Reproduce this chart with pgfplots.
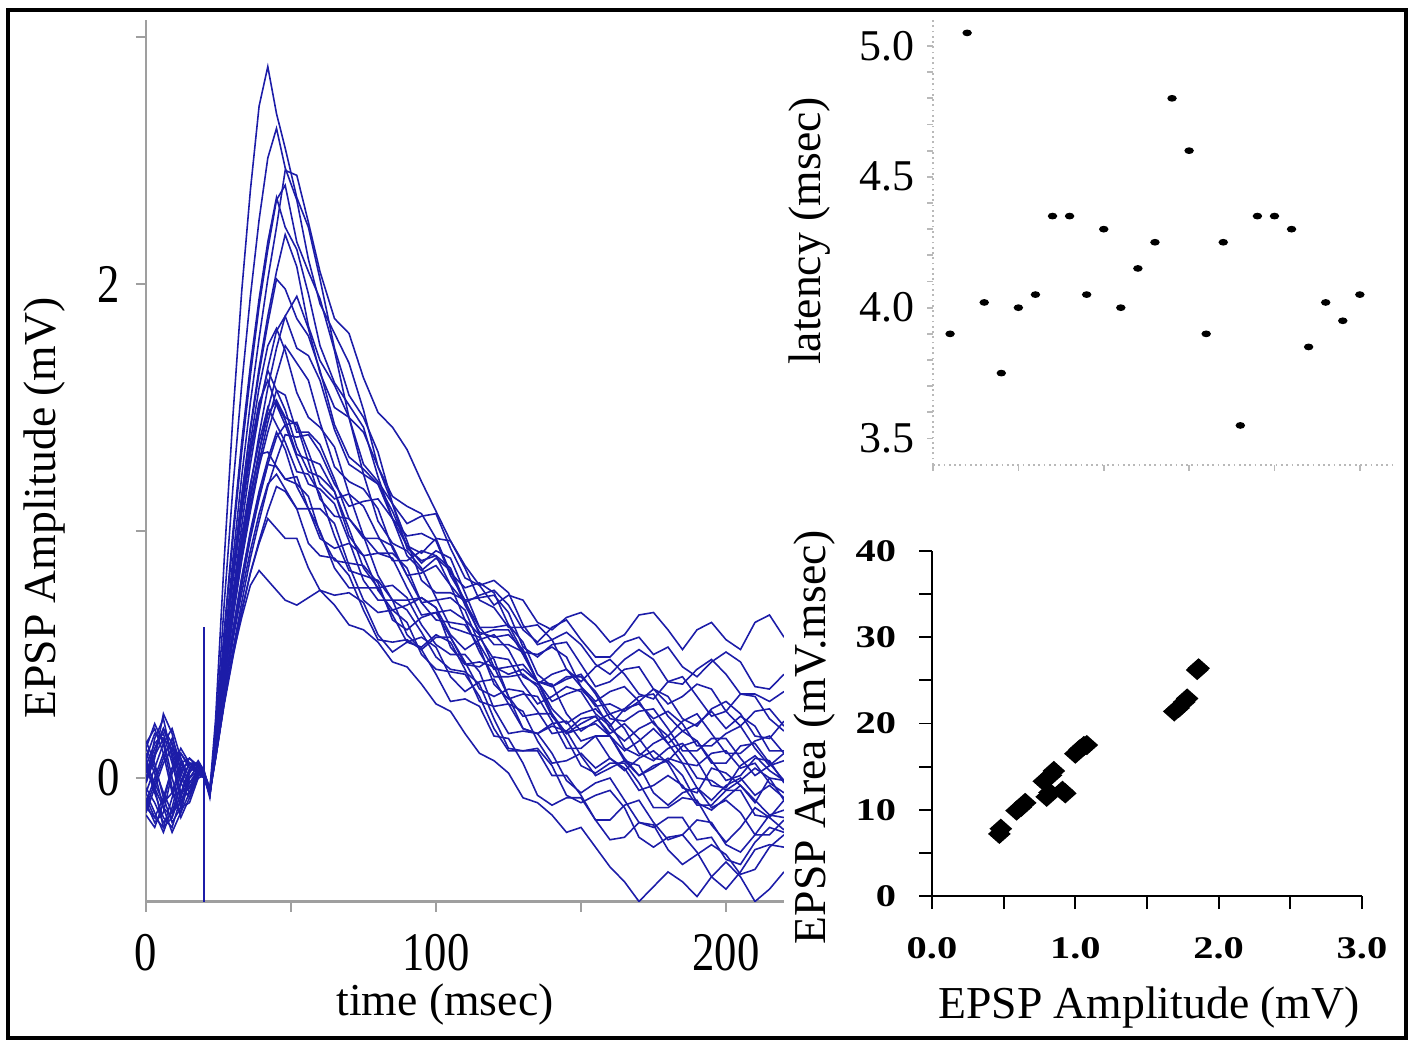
\documentclass[border=0pt]{standalone}
\usepackage{pgfplots}
\usepackage{pgfplotstable}
\pgfplotsset{compat=1.18}
\usepackage{fontspec}
\setmainfont{Liberation Serif}
\definecolor{trace}{RGB}{28,28,168}

% one row per sweep, one column per time (msec); transposed below
\pgfplotstableread{
t 0 3 6 9 12 15 18 20 22 24 27 30 33 36 39 42 45 48 52 56 60 65 70 75 80 85 90 95 100 105 110 115 120 125 130 135 140 145 150 155 160 165 170 175 180 185 190 195 200 205 210 215 220
r1 0.02 0.12 0.20 0.10 -0.06 -0.04 0.04 0.02 -0.05 0.24 0.89 1.47 1.97 2.38 2.72 2.88 2.69 2.55 2.35 2.23 2.02 1.74 1.55 1.46 1.32 1.11 0.93 0.88 0.90 0.85 0.71 0.61 0.61 0.62 0.55 0.42 0.37 0.40 0.42 0.34 0.24 0.23 0.27 0.28 0.20 0.11 0.11 0.16 0.16 0.08 0.01 0.05 0.10
r2 -0.06 -0.14 -0.22 -0.12 0.02 0.08 0.05 0.01 -0.07 0.19 0.71 1.18 1.59 1.95 2.26 2.51 2.63 2.47 2.34 2.10 1.92 1.80 1.68 1.49 1.26 1.14 1.10 1.07 0.97 0.83 0.77 0.79 0.75 0.62 0.51 0.50 0.53 0.49 0.37 0.31 0.35 0.37 0.31 0.22 0.17 0.23 0.26 0.18 0.10 0.10 0.15 0.17 0.10
r3 0.12 0.22 0.14 -0.04 -0.16 -0.08 0.02 0.00 -0.06 0.14 0.53 0.89 1.22 1.52 1.78 2.02 2.23 2.46 2.44 2.25 2.05 1.86 1.80 1.62 1.48 1.42 1.33 1.20 1.08 0.96 0.86 0.78 0.70 0.74 0.72 0.63 0.60 0.65 0.67 0.62 0.55 0.58 0.66 0.67 0.60 0.52 0.60 0.63 0.56 0.52 0.63 0.66 0.57
r4 -0.12 -0.02 0.08 0.16 0.06 -0.02 0.03 0.02 -0.04 0.15 0.58 0.97 1.32 1.63 1.91 2.14 2.34 2.40 2.17 2.05 1.94 1.73 1.46 1.27 1.20 1.11 0.96 0.80 0.75 0.75 0.72 0.58 0.45 0.42 0.44 0.39 0.26 0.18 0.20 0.22 0.17 0.07 0.01 0.05 0.07 0.01 -0.10 -0.13 -0.08 -0.03 -0.09 -0.15 -0.13
r5 0.05 -0.06 -0.16 -0.20 -0.08 0.04 0.06 0.03 -0.06 0.16 0.60 1.00 1.36 1.67 1.94 2.17 2.35 2.23 2.14 1.96 1.75 1.60 1.51 1.42 1.22 1.05 0.98 0.99 0.96 0.82 0.72 0.73 0.74 0.67 0.53 0.49 0.54 0.55 0.46 0.37 0.39 0.44 0.45 0.36 0.30 0.33 0.38 0.36 0.27 0.21 0.27 0.28 0.21
r6 -0.02 0.08 0.26 0.18 0.02 -0.06 0.00 0.01 -0.08 0.13 0.50 0.84 1.14 1.42 1.66 1.87 2.05 2.20 2.07 1.83 1.69 1.59 1.46 1.23 1.04 0.95 0.92 0.85 0.73 0.61 0.59 0.57 0.48 0.33 0.25 0.26 0.26 0.16 0.05 0.02 0.06 0.06 -0.02 -0.12 -0.12 -0.08 -0.09 -0.19 -0.26 -0.20 -0.12 -0.16 -0.09
r7 0.15 0.06 -0.08 -0.18 -0.12 0.02 0.07 0.03 -0.05 0.13 0.50 0.84 1.14 1.41 1.64 1.84 2.02 1.98 1.86 1.79 1.65 1.43 1.30 1.25 1.19 1.05 0.90 0.84 0.89 0.84 0.70 0.59 0.57 0.58 0.52 0.39 0.31 0.34 0.36 0.30 0.20 0.15 0.20 0.23 0.14 0.06 0.05 0.10 0.11 0.04 0.06 -0.02 -0.06
r8 -0.15 -0.20 -0.10 0.04 0.12 0.06 0.02 0.00 -0.06 0.11 0.41 0.69 0.95 1.18 1.39 1.58 1.74 1.87 1.95 1.82 1.64 1.50 1.46 1.40 1.26 1.11 1.03 1.06 1.07 0.93 0.81 0.78 0.80 0.75 0.62 0.54 0.56 0.59 0.54 0.46 0.42 0.48 0.52 0.48 0.39 0.38 0.44 0.48 0.42 0.34 0.34 0.31 0.35
r9 0.00 0.09 0.16 0.12 -0.02 -0.08 0.01 0.02 -0.06 0.13 0.49 0.82 1.11 1.36 1.58 1.75 1.82 1.73 1.56 1.46 1.42 1.34 1.15 0.98 0.91 0.91 0.85 0.71 0.64 0.63 0.62 0.53 0.38 0.32 0.34 0.33 0.23 0.12 0.12 0.17 0.17 0.08 0.01 0.04 0.08 0.06 -0.04 -0.09 -0.03 0.00 -0.07 -0.03 -0.08
r10 -0.04 -0.10 -0.18 -0.14 -0.02 0.06 0.06 0.02 -0.05 0.10 0.40 0.67 0.91 1.13 1.32 1.49 1.63 1.75 1.68 1.61 1.44 1.26 1.20 1.17 1.09 0.93 0.82 0.83 0.86 0.78 0.64 0.58 0.60 0.60 0.50 0.39 0.37 0.41 0.41 0.35 0.26 0.28 0.33 0.34 0.25 0.19 0.22 0.27 0.20 0.25 0.21 0.11 0.11
r11 0.08 0.18 0.16 0.00 -0.12 -0.10 0.00 0.01 -0.07 0.13 0.49 0.80 1.07 1.31 1.50 1.65 1.57 1.49 1.34 1.24 1.22 1.16 1.01 0.85 0.77 0.78 0.73 0.62 0.54 0.50 0.50 0.43 0.28 0.18 0.19 0.18 0.10 -0.01 -0.06 -0.02 0.00 -0.09 -0.18 -0.20 -0.16 -0.16 -0.25 -0.24 -0.33 -0.35 -0.26 -0.20 -0.22
r12 -0.10 0.00 0.10 0.14 0.04 -0.04 0.02 0.02 -0.05 0.10 0.39 0.66 0.89 1.10 1.28 1.44 1.57 1.55 1.40 1.40 1.35 1.21 1.05 0.97 0.97 0.94 0.82 0.71 0.72 0.73 0.68 0.54 0.44 0.45 0.46 0.39 0.28 0.22 0.26 0.28 0.22 0.12 0.09 0.14 0.17 0.09 0.00 -0.01 -0.05 -0.01 0.04 0.00 -0.09
r13 0.04 -0.04 -0.12 -0.16 -0.06 0.03 0.05 0.02 -0.06 0.11 0.41 0.69 0.93 1.14 1.32 1.47 1.53 1.46 1.43 1.28 1.13 1.06 1.05 0.98 0.82 0.72 0.72 0.73 0.69 0.53 0.46 0.47 0.45 0.33 0.20 0.18 0.21 0.19 0.09 0.01 0.04 0.07 0.05 -0.06 -0.11 -0.06 -0.04 -0.12 -0.09 -0.14 -0.23 -0.23 -0.17
r14 0.00 0.10 0.20 0.14 0.00 -0.06 0.01 0.02 -0.06 0.12 0.44 0.73 0.98 1.19 1.36 1.50 1.43 1.36 1.24 1.23 1.15 0.98 0.84 0.82 0.80 0.72 0.58 0.52 0.57 0.57 0.47 0.36 0.33 0.36 0.35 0.27 0.18 0.19 0.24 0.25 0.17 0.11 0.15 0.20 0.14 0.19 0.15 0.06 0.06 0.13 0.14 0.06 -0.01
r15 0.12 0.04 -0.06 -0.14 -0.10 0.00 0.05 0.02 -0.05 0.09 0.34 0.57 0.78 0.97 1.13 1.27 1.38 1.43 1.44 1.32 1.19 1.13 1.15 1.10 0.98 0.88 0.88 0.92 0.90 0.78 0.71 0.74 0.76 0.70 0.60 0.55 0.61 0.64 0.56 0.49 0.49 0.55 0.57 0.50 0.53 0.45 0.41 0.47 0.51 0.47 0.37 0.36 0.42
r16 -0.12 -0.16 -0.08 0.04 0.10 0.05 0.02 0.00 -0.07 0.09 0.36 0.60 0.81 1.00 1.16 1.29 1.40 1.33 1.18 1.09 1.09 1.03 0.86 0.72 0.67 0.68 0.63 0.50 0.44 0.43 0.42 0.33 0.20 0.11 0.11 0.12 0.05 -0.07 -0.10 -0.07 -0.05 -0.12 -0.24 -0.28 -0.24 -0.23 -0.30 -0.40 -0.45 -0.38 -0.29 -0.27 -0.28
r17 0.05 0.14 0.18 0.06 -0.08 -0.06 0.03 0.01 -0.05 0.10 0.36 0.60 0.81 0.99 1.14 1.27 1.26 1.21 1.19 1.14 0.99 0.88 0.87 0.86 0.79 0.64 0.60 0.65 0.67 0.57 0.46 0.45 0.49 0.48 0.38 0.30 0.33 0.37 0.35 0.26 0.21 0.28 0.30 0.24 0.27 0.22 0.13 0.13 0.18 0.21 0.12 0.05 0.07
r18 -0.08 -0.16 -0.20 -0.08 0.04 0.06 0.03 0.01 -0.06 0.08 0.30 0.49 0.67 0.83 0.96 1.08 1.18 1.16 1.09 1.09 1.00 0.85 0.77 0.77 0.77 0.66 0.55 0.53 0.58 0.55 0.44 0.31 0.29 0.30 0.27 0.15 0.06 0.07 0.10 0.04 0.08 0.04 -0.05 -0.03 0.01 -0.03 -0.11 -0.11 -0.05 -0.05 -0.15 -0.16 -0.21
r19 0.14 0.20 0.10 -0.06 -0.14 -0.06 0.02 0.00 -0.05 0.08 0.31 0.51 0.68 0.83 0.95 1.05 1.01 0.97 0.97 0.85 0.76 0.74 0.75 0.71 0.58 0.51 0.55 0.57 0.53 0.41 0.35 0.39 0.40 0.30 0.20 0.18 0.22 0.23 0.15 0.17 0.08 0.03 0.08 0.11 0.06 -0.04 -0.06 0.04 0.02 -0.03 -0.10 0.00 -0.01
r20 -0.14 -0.04 0.06 0.12 0.08 0.00 0.03 0.02 -0.04 0.08 0.31 0.50 0.65 0.78 0.84 0.80 0.76 0.72 0.70 0.73 0.76 0.70 0.62 0.60 0.55 0.47 0.45 0.38 0.30 0.27 0.18 0.10 0.07 0.02 -0.08 -0.10 -0.15 -0.22 -0.20 -0.28 -0.36 -0.42 -0.50 -0.44 -0.38 -0.42 -0.48 -0.40 -0.34 -0.40 -0.50 -0.45 -0.38
r21 0.06 -0.02 -0.10 -0.06 0.06 0.08 0.04 0.02 -0.06 0.12 0.44 0.72 0.96 1.15 1.31 1.32 1.26 1.21 1.22 1.09 0.97 0.93 0.95 0.90 0.76 0.68 0.70 0.73 0.69 0.58 0.52 0.56 0.58 0.52 0.41 0.38 0.42 0.44 0.37 0.29 0.30 0.27 0.31 0.36 0.33 0.24 0.21 0.28 0.31 0.26 0.17 0.16 0.23
r22 -0.02 0.16 0.24 0.08 -0.10 -0.02 0.03 0.01 -0.06 0.10 0.39 0.65 0.88 1.08 1.26 1.40 1.52 1.45 1.31 1.29 1.27 1.16 0.98 0.90 0.91 0.89 0.77 0.66 0.67 0.68 0.64 0.51 0.41 0.41 0.42 0.37 0.25 0.18 0.22 0.25 0.18 0.22 0.16 0.08 0.07 0.13 0.15 0.07 -0.01 0.01 0.08 0.07 -0.02
r23 -0.10 -0.18 -0.14 0.02 0.10 0.04 0.02 0.01 -0.07 0.13 0.50 0.82 1.10 1.33 1.52 1.61 1.51 1.43 1.30 1.19 1.17 1.11 0.96 0.80 0.72 0.72 0.68 0.59 0.49 0.44 0.43 0.38 0.24 0.12 0.11 0.11 0.01 0.01 -0.07 -0.17 -0.17 -0.11 -0.09 -0.18 -0.25 -0.23 -0.17 -0.18 -0.27 -0.30 -0.23 -0.15 -0.16
r24 0.10 0.02 -0.12 -0.22 -0.14 0.00 0.05 0.02 -0.05 0.12 0.45 0.75 1.02 1.27 1.48 1.66 1.81 1.87 1.74 1.71 1.61 1.41 1.27 1.23 1.19 1.08 0.94 0.87 0.92 0.89 0.75 0.61 0.54 0.54 0.51 0.39 0.38 0.26 0.19 0.23 0.26 0.20 0.10 0.07 0.12 0.14 0.07 -0.03 -0.04 0.05 0.09 0.03 -0.01
r25 -0.06 0.04 0.14 0.20 0.08 -0.04 0.01 0.01 -0.06 0.08 0.31 0.52 0.71 0.89 1.04 1.18 1.29 1.39 1.38 1.39 1.32 1.19 1.10 1.12 1.13 1.05 0.94 0.91 0.97 0.96 0.85 0.72 0.69 0.61 0.61 0.62 0.56 0.44 0.39 0.45 0.48 0.42 0.34 0.32 0.39 0.41 0.33 0.25 0.27 0.34 0.33 0.24 0.19
r26 0.08 -0.04 -0.20 -0.16 -0.02 0.06 0.05 0.02 -0.06 0.09 0.33 0.56 0.75 0.92 1.07 1.19 1.23 1.17 1.09 0.95 0.90 0.89 0.82 0.68 0.56 0.55 0.56 0.52 0.42 0.31 0.32 0.29 0.17 0.16 0.06 -0.07 -0.11 -0.08 -0.08 -0.17 -0.25 -0.24 -0.18 -0.19 -0.29 -0.35 -0.31 -0.27 -0.31 -0.39 -0.37 -0.28 -0.23
}\rawtraces
\pgfplotstabletranspose[colnames from=t]{\traces}{\rawtraces}

\pgfplotstableread{
n lat
1 3.90
2 5.05
3 4.02
4 3.75
5 4.00
6 4.05
7 4.35
8 4.35
9 4.05
10 4.30
11 4.00
12 4.15
13 4.25
14 4.80
15 4.60
16 3.90
17 4.25
18 3.55
19 4.35
20 4.35
21 4.30
22 3.85
23 4.02
24 3.95
25 4.05
}\latency

\pgfplotstableread{
amp area
0.47 7.2
0.48 7.8
0.59 9.9
0.62 10.3
0.65 10.8
0.78 13.3
0.80 11.5
0.82 12.0
0.83 14.0
0.85 14.5
0.91 12.2
0.93 11.9
1.00 16.5
1.03 17.0
1.06 17.4
1.08 17.5
1.69 21.4
1.72 21.8
1.76 22.5
1.78 22.9
1.85 26.2
1.86 26.4
}\area

\begin{document}
\begin{tikzpicture}
\useasboundingbox (0,0) rectangle (14.14,10.41);
\draw[line width=1pt] (0.08,0.03) rectangle (14.06,10.31);

% EPSP sweeps
\begin{axis}[
  at={(1.46cm,1.395cm)}, anchor=south west, scale only axis,
  width=6.38cm, height=8.818cm,
  xmin=0, xmax=220, ymin=-0.5, ymax=3.07,
  axis lines=left, axis line style={-, draw=gray!75, line width=0.7pt},
  tick align=outside, major tick length=0.1cm,
  tick style={gray!75, line width=0.7pt},
  xtick={0,50,100,150,200}, xticklabels={0,,100,,200},
  ytick={0,1,2,3}, yticklabels={0,,2,},
  tick label style={font=\fontsize{15.5}{16}\selectfont, xscale=0.82},
  xticklabel style={yshift=-3pt}, yticklabel style={xshift=-2pt},
]
\pgfplotsinvokeforeach{r1,r2,r3,r4,r5,r6,r7,r8,r9,r10,r11,r12,r13,r14,r15,r16,r17,r18,r19,r20,r21,r22,r23,r24,r25,r26}{
  \addplot[color=trace, line width=0.45pt] table[x=colnames, y=#1] {\traces};
}
\addplot[color=trace, line width=0.5pt] coordinates {(20,0.61) (20,-0.5)};
\end{axis}

% latency vs sweep
\begin{axis}[
  at={(9.33cm,5.763cm)}, anchor=south west, scale only axis,
  width=4.61cm, height=4.449cm,
  xmin=0, xmax=27, ymin=3.4, ymax=5.1,
  axis lines=left, axis line style={-, draw=gray!55, line width=0.5pt, densely dotted},
  tick align=outside, major tick length=0.06cm, minor tick length=0.06cm,
  tick style={gray!55, line width=0.5pt},
  xtick={0,5,10,15,20,25}, xticklabels={},
  ytick={3.5,4,4.5,5}, yticklabels={3.5,4.0,4.5,5.0},
  minor y tick num=4,
  tick label style={font=\fontsize{12.5}{13}\selectfont},
]
\addplot[only marks, mark=*, mark size=0.75pt,
  mark options={xscale=1.5, fill=black, draw=black}] table[x=n, y=lat] {\latency};
\end{axis}

% area vs amplitude
\begin{axis}[
  at={(9.32cm,1.45cm)}, anchor=south west, scale only axis,
  width=4.30cm, height=3.45cm,
  xmin=0, xmax=3, ymin=0, ymax=40,
  axis lines=left, axis line style={-, draw=black, line width=0.5pt},
  tick align=outside, major tick length=0.13cm,
  tick style={black, line width=0.5pt},
  xtick={0,0.5,1,1.5,2,2.5,3}, xticklabels={0.0,,1.0,,2.0,,3.0},
  ytick={0,5,10,15,20,25,30,35,40}, yticklabels={0,,10,,20,,30,,40},
  tick label style={font=\bfseries\fontsize{11.5}{12}\selectfont, yscale=0.78},
  xticklabel style={yshift=-7pt}, yticklabel style={xshift=-3pt},
]
\addplot[only marks, mark=diamond*, mark size=2.6pt,
  mark options={xscale=1.5, fill=black, draw=black}] table[x=amp, y=area] {\area};
\end{axis}

\begin{scope}[every node/.style={font=\fontsize{13}{15}\selectfont}]
\node[rotate=90] at (0.45,5.33) {EPSP Amplitude (mV)};
\node at (4.45,0.36) {time (msec)};
\node[rotate=90] at (8.10,8.10) {latency (msec)};
\node[rotate=90] at (8.15,3.04) {EPSP Area (mV.msec)};
\node at (11.49,0.33) {EPSP Amplitude (mV)};
\end{scope}
\end{tikzpicture}
\end{document}
